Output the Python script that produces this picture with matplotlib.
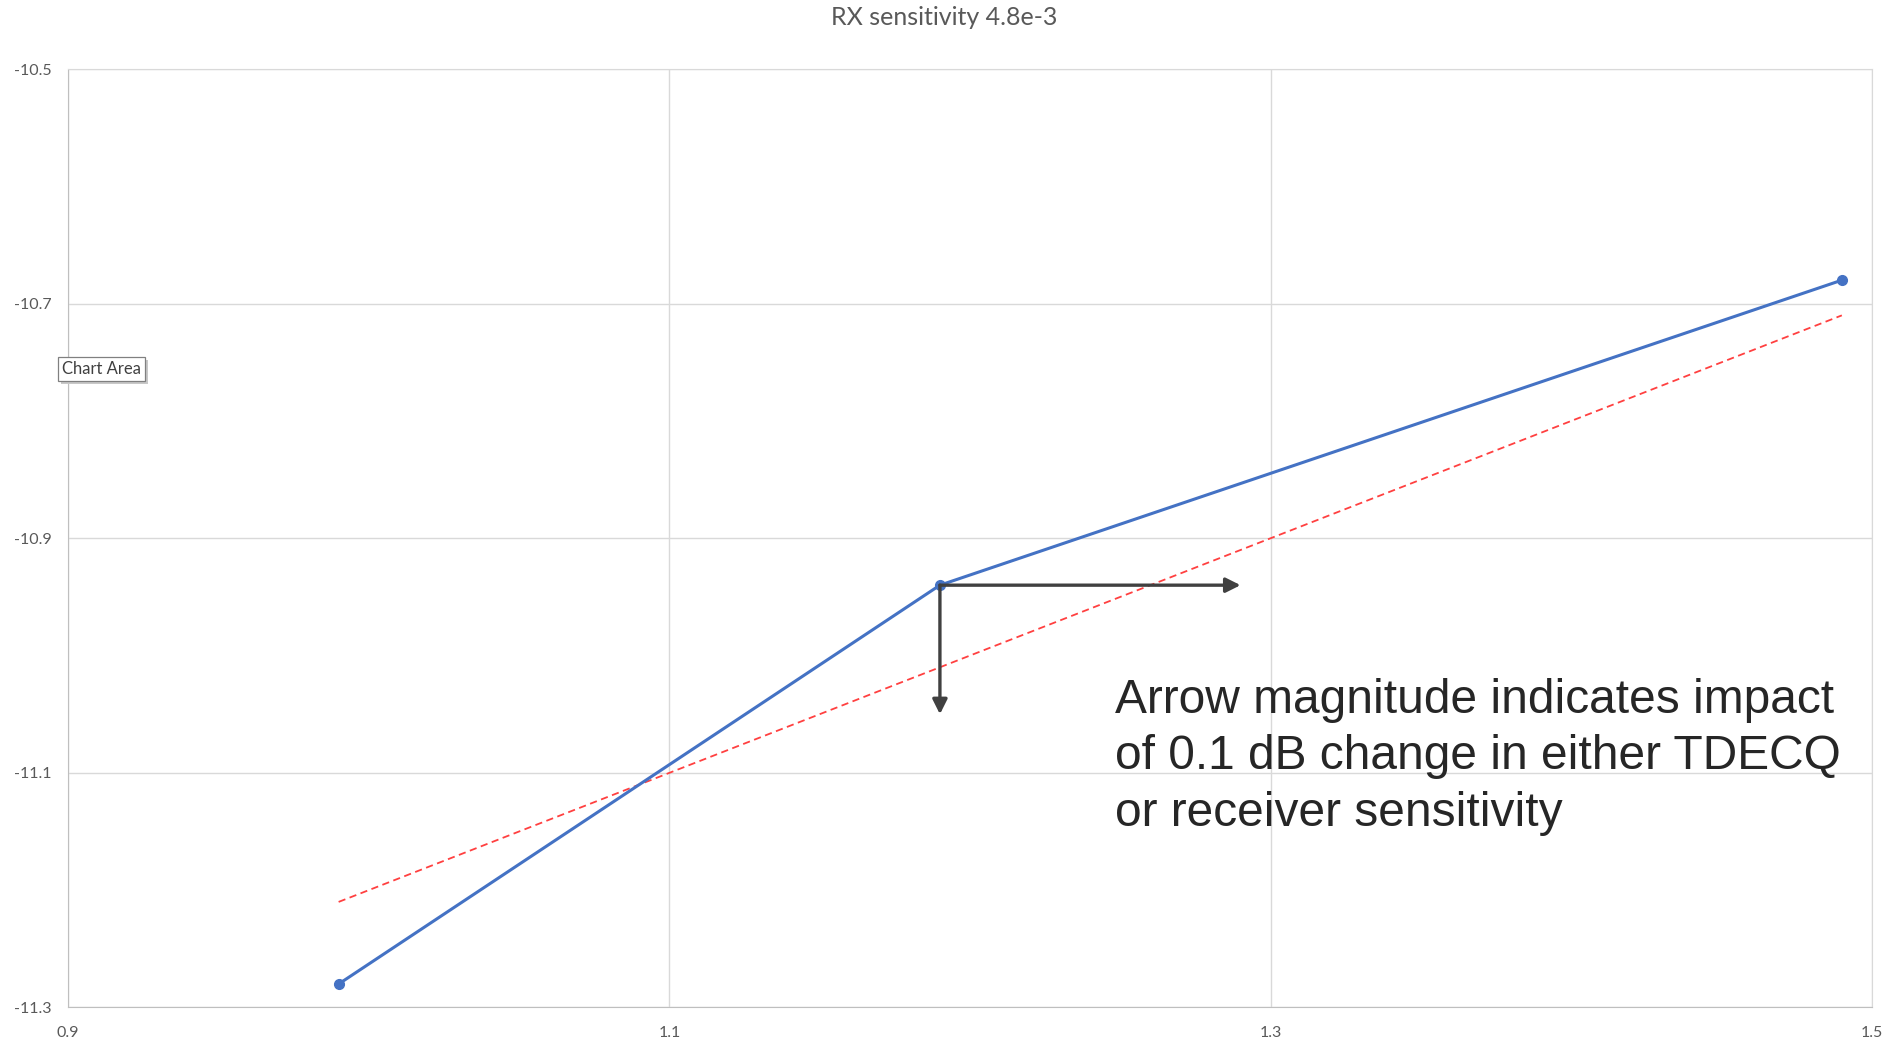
import matplotlib.pyplot as plt
from matplotlib.patches import Rectangle

# sensitivity curve
ber_x = [0.99, 1.19, 1.49]
sens_y = [-11.28, -10.94, -10.68]

# straight reference line
trend_x = [0.99, 1.49]
trend_y = [-11.21, -10.71]

# impact arrows drawn from the middle point
arrow_base = (1.19, -10.94)
arrow_dx = 0.10
arrow_dy = -0.11

x_ticks = [0.9, 1.1, 1.3, 1.5]
y_ticks = [-10.5, -10.7, -10.9, -11.1, -11.3]

fig = plt.figure(figsize=(19.01, 10.41), dpi=100)
ax = fig.add_axes([0.0358, 0.0322, 0.9489, 0.9015])

ax.plot(ber_x, sens_y, color='#4472C4', linewidth=2.2, marker='o',
        markersize=7, zorder=3)
ax.plot(trend_x, trend_y, color='#FF4040', linewidth=1.3,
        linestyle=(0, (4, 2.5)), zorder=2)

arrow_style = dict(arrowstyle='-|>', color='#404040', lw=2.4,
                   mutation_scale=22, shrinkA=0, shrinkB=0)
ax.annotate('', xy=(arrow_base[0] + arrow_dx, arrow_base[1]),
            xytext=arrow_base, arrowprops=arrow_style, zorder=4)
ax.annotate('', xy=(arrow_base[0], arrow_base[1] + arrow_dy),
            xytext=arrow_base, arrowprops=arrow_style, zorder=4)

ax.text(1.2484, -11.019,
        'Arrow magnitude indicates impact\nof 0.1 dB change in either TDECQ\nor receiver sensitivity',
        fontsize=34.5, family='Liberation Sans', color='#262626',
        va='top', ha='left', linespacing=1.33)

ax.set_xlim(0.9, 1.5)
ax.set_ylim(-11.3, -10.5)
ax.set_xticks(x_ticks)
ax.set_yticks(y_ticks)
ax.set_xticklabels([f'{v:g}' for v in x_ticks])
ax.set_yticklabels([f'{v:g}' for v in y_ticks])
ax.grid(True, color='#D9D9D9', linewidth=1.0)
ax.set_axisbelow(True)
ax.tick_params(length=0, labelsize=11.5, labelcolor='#595959')
ax.tick_params(axis='x', pad=13)
ax.tick_params(axis='y', pad=12)
for lbl in ax.get_xticklabels() + ax.get_yticklabels():
    lbl.set_family('Lato')
for side in ['top', 'right']:
    ax.spines[side].set_color('#D9D9D9')
for side in ['left', 'bottom']:
    ax.spines[side].set_color('#BFBFBF')

fig.text(0.4965, 0.983, 'RX sensitivity 4.8e-3', ha='center', va='center',
         fontsize=18, color='#595959', family='Lato')

# hover tip box with a soft drop shadow
fig.patches.append(Rectangle((0.0322, 0.6312), 0.0459, 0.0233,
                             transform=fig.transFigure, facecolor='#C8C8C8',
                             edgecolor='none', zorder=5))
fig.patches.append(Rectangle((0.0305, 0.634), 0.0459, 0.0233,
                             transform=fig.transFigure, facecolor='white',
                             edgecolor='#808080', linewidth=0.9, zorder=6))
fig.text(0.0535, 0.6458, 'Chart Area', fontsize=12, family='Lato',
         color='#404040', va='center', ha='center', zorder=7)

fig.savefig('out.png', dpi=100)
